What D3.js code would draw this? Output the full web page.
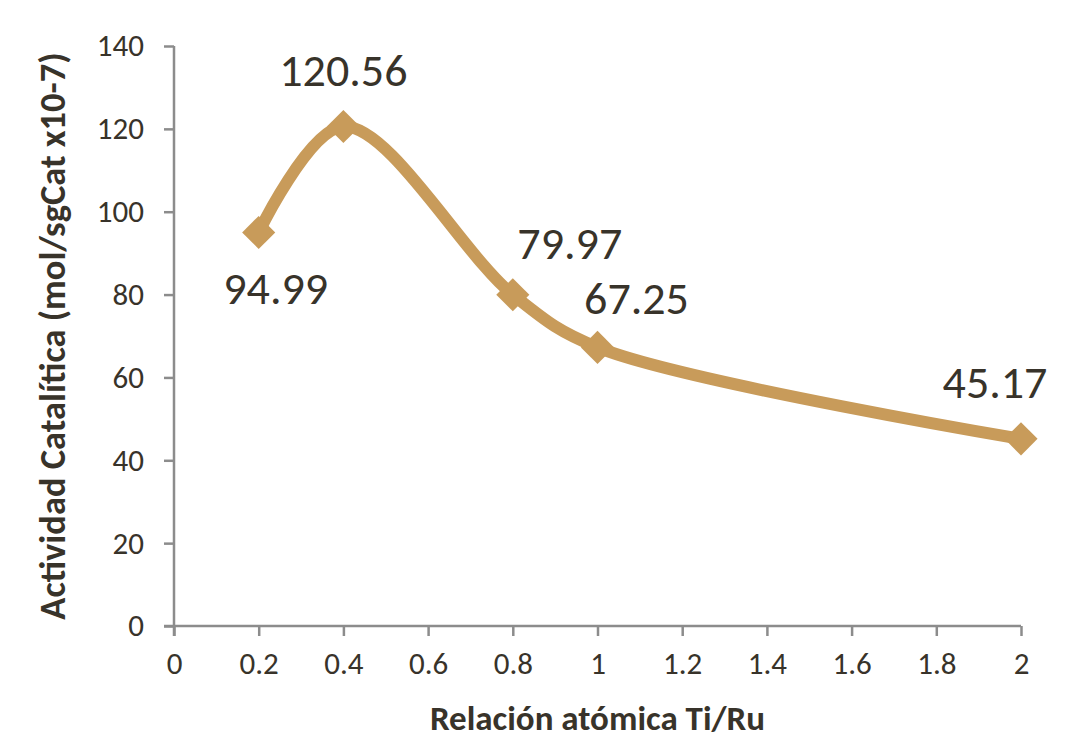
<!DOCTYPE html>
<html>
<head>
<meta charset="utf-8">
<script src="https://cdn.jsdelivr.net/npm/d3@7"></script>
<style>
  html, body { margin: 0; padding: 0; background: #fff; }
  svg { display: block; font-family: Calibri, Carlito, "Open Sans", sans-serif; }
</style>
</head>
<body>
<div id="chart"></div>
<script>
// Data
const ratios = [0.2, 0.4, 0.8, 1, 2];
const activity = [94.99, 120.56, 79.97, 67.25, 45.17];
const xTicks = [0, 0.2, 0.4, 0.6, 0.8, 1, 1.2, 1.4, 1.6, 1.8, 2];
const yTicks = [0, 20, 40, 60, 80, 100, 120, 140];
// label placement relative to each point (dx, dy)
const labelOffsets = [[17, 55], [0, -57], [57, -52], [39, -49], [-26, -57]];

const width = 1075;
const height = 741;
const marginLeft = 174;
const marginRight = 54;
const marginTop = 46;
const marginBottom = 115;

const lineColor = "#c89b5a";
const textColor = "#38332a";
const axisColor = "#8c8c8c";

const data = ratios.map((r, i) => ({ x: r, y: activity[i], off: labelOffsets[i] }));

const x = d3.scaleLinear()
  .domain([0, 2])
  .range([marginLeft, width - marginRight]);

const y = d3.scaleLinear()
  .domain([0, 140])
  .range([height - marginBottom, marginTop]);

const svg = d3.select("#chart")
  .append("svg")
  .attr("width", width)
  .attr("height", height)
  .attr("viewBox", [0, 0, width, height]);

// Axes
const xAxis = svg.append("g")
  .attr("transform", `translate(0,${y(0)})`)
  .call(d3.axisBottom(x).tickValues(xTicks).tickFormat(d => String(d)).tickSize(10).tickSizeOuter(0).tickPadding(16));

const yAxis = svg.append("g")
  .attr("transform", `translate(${x(0)},0)`)
  .call(d3.axisLeft(y).tickValues(yTicks).tickSize(10).tickSizeOuter(0).tickPadding(20));

svg.selectAll(".domain, .tick line")
  .attr("stroke", axisColor)
  .attr("stroke-width", 2.5);

svg.selectAll(".tick text")
  .attr("fill", textColor)
  .attr("font-size", 31)
  .attr("font-family", 'Calibri, Carlito, "Open Sans", sans-serif');

// axis lines cross a little past the origin, as in the reference
yAxis.select(".domain").attr("d", `M0,${y(140)}V${y(0) + 10}`);
xAxis.select(".domain").attr("d", `M${x(0) - 10},0H${x(2)}`);

// Smoothed line
const line = d3.line()
  .x(d => x(d.x))
  .y(d => y(d.y))
  .curve(d3.curveCatmullRom.alpha(0.5));

svg.append("path")
  .datum(data)
  .attr("fill", "none")
  .attr("stroke", lineColor)
  .attr("stroke-width", 12)
  .attr("stroke-linejoin", "round")
  .attr("stroke-linecap", "round")
  .attr("d", line);

// Diamond markers
svg.append("g")
  .attr("fill", lineColor)
  .selectAll("path")
  .data(data)
  .join("path")
  .attr("transform", d => `translate(${x(d.x)},${y(d.y)})`)
  .attr("d", d3.symbol(d3.symbolDiamond2, 700));

// Data labels
svg.append("g")
  .attr("fill", textColor)
  .attr("font-size", 46)
  .attr("text-anchor", "middle")
  .selectAll("text")
  .data(data)
  .join("text")
  .attr("x", d => x(d.x) + d.off[0])
  .attr("y", d => y(d.y) + d.off[1])
  .attr("dy", "0.35em")
  .text(d => d.y.toFixed(2));

// Axis titles
svg.append("text")
  .attr("x", x(1))
  .attr("y", 718)
  .attr("dy", "0.35em")
  .attr("text-anchor", "middle")
  .attr("font-weight", "bold")
  .attr("font-size", 35)
  .attr("fill", textColor)
  .text("Relación atómica Ti/Ru");

svg.append("text")
  .attr("transform", `translate(52,${(y(0) + y(140)) / 2}) rotate(-90)`)
  .attr("dy", "0.35em")
  .attr("text-anchor", "middle")
  .attr("font-weight", "bold")
  .attr("font-size", 36.5)
  .attr("fill", textColor)
  .text("Actividad Catalítica (mol/sgCat x10-7)");
</script>
</body>
</html>
